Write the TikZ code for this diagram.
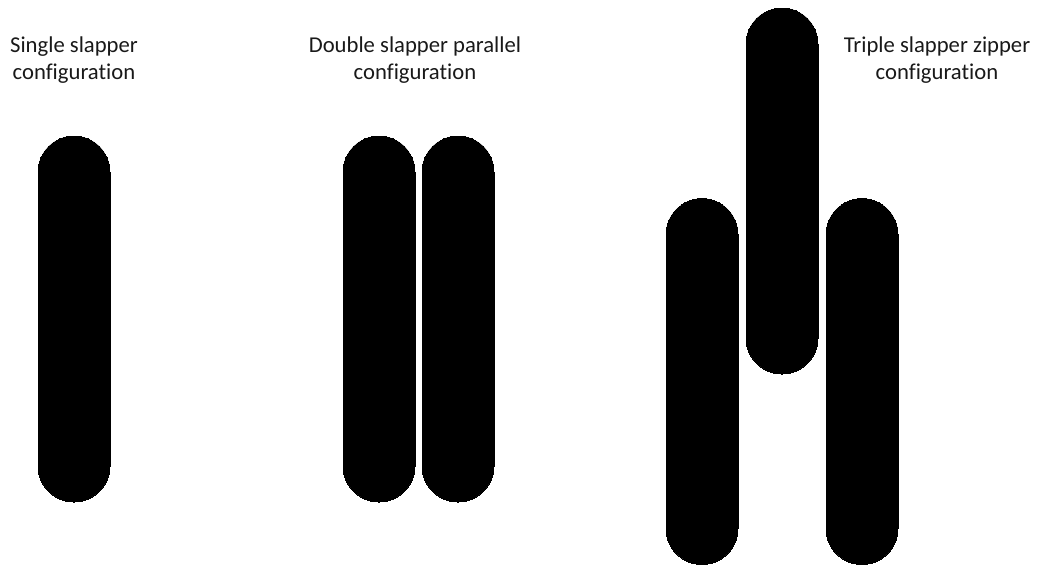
\documentclass[tikz,border=0pt]{standalone}
\usepackage{fontspec}
\setmainfont{Carlito}[Ligatures=NoCommon]
\usetikzlibrary{positioning}
\tikzset{
  slapper/.style={draw=black,fill=black,line width=0pt,inner sep=0pt,minimum width=54pt,minimum height=274.5pt,rounded corners=27pt},
  rotulo/.style={font=\fontsize{17}{20.5}\selectfont,align=center,inner sep=0pt,text=black!90},
}
\begin{document}
\begin{tikzpicture}[x=0.75pt,y=-0.75pt]
\useasboundingbox (0,0) rectangle (1037,565);
% single
\node[slapper] (s1) at (74,319) {};
\node[rotulo] (t1) at (74,60) {Single slapper\\configuration};
% double, parallel
\node[slapper] (d1) at (379,319) {};
\node[slapper] (d2) at (458,319) {};
\node[rotulo] (t2) at (415,60) {Double slapper parallel\\configuration};
% triple, zipper
\node[slapper] (z1) at (702,381.5) {};
\node[slapper] (z2) at (782,191) {};
\node[slapper] (z3) at (862,381.5) {};
\node[rotulo] (t3) at (937,60) {Triple slapper zipper\\configuration};
\end{tikzpicture}
\end{document}
